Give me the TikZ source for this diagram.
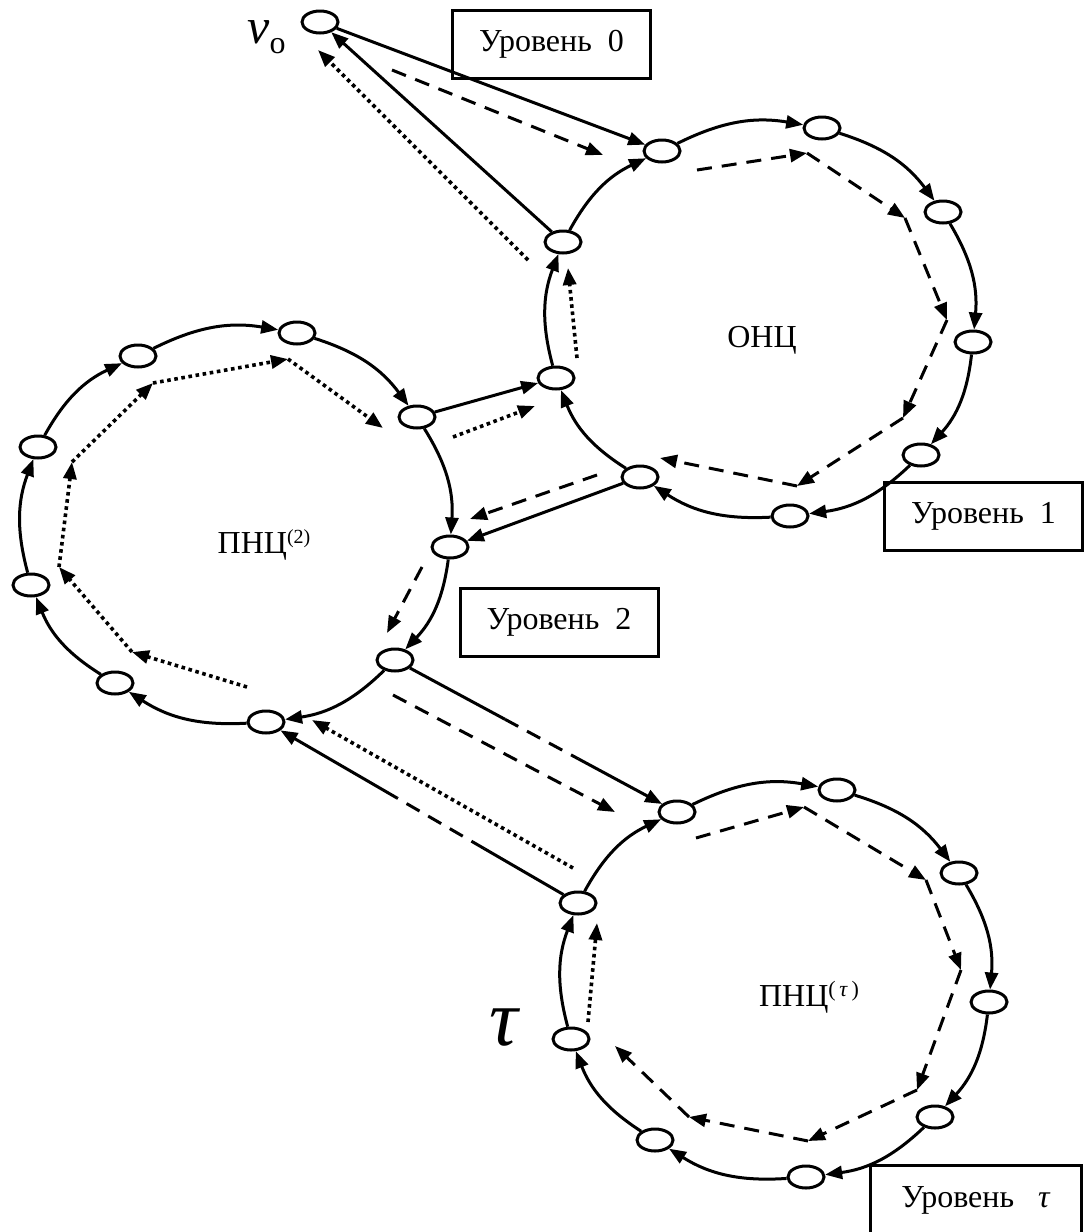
\documentclass[tikz,border=0pt]{standalone}
\usepackage{fontspec}
\setmainfont{Liberation Serif}
\usetikzlibrary{calc}
\usetikzlibrary{arrows.meta}
\usetikzlibrary{shapes.geometric}

\tikzset{
  vert/.style={draw,ellipse,line width=3pt,minimum width=36pt,minimum height=22pt,inner sep=0pt},
  levbox/.style={draw,line width=3pt,minimum width=198pt,minimum height=68pt,inner sep=0pt},
  ring/.style={->,line width=3pt},
  dsh/.style={->,line width=3pt,dash pattern=on 15pt off 10pt},
  dts/.style={->,line width=3.6pt,dash pattern=on 3.6pt off 3.6pt},
}

\begin{document}
\begin{tikzpicture}[line join=miter,>={Triangle[length=17pt,width=13pt]},x=1pt,y=-1pt,line width=3pt,font=\fontsize{32}{36}\selectfont]
\useasboundingbox (0,0) rectangle (1084,1232);
\clip (0,0) rectangle (1084,1232);

% vertices
\node[vert] (v0) at (320,22) {};
\foreach \n/\x/\y in {o1/662/151,o2/822/128,o3/943/212,o4/973/342,o5/921/455,o6/790/516,o7/640/477,o8/556/378,o9/563/242}
  \node[vert] (\n) at (\x,\y) {};
\foreach \n/\x/\y in {p1/138/356,p2/297/333,p3/417/417,p4/450/547,p5/395/660,p6/266/722,p7/115/683,p8/31/585,p9/38/447}
  \node[vert] (\n) at (\x,\y) {};
\foreach \n/\x/\y in {t1/677/812,t2/837/790,t3/959/873,t4/989/1002,t5/935/1117,t6/806/1177,t7/655/1140,t8/571/1039,t9/578/903}
  \node[vert] (\n) at (\x,\y) {};

% level boxes and labels
\node[levbox] (lev0) at (551.5,44.5) {Уровень~~0};
\node[levbox] (lev1) at (983.5,516) {Уровень~~1};
\node[levbox] (lev2) at (559,622.5) {Уровень~~2};
\node[levbox,minimum width=211pt,minimum height=70pt] (levt) at (976,1200) {Уровень~~~\textit{τ}};
\node (onc) at (762,340) {ОНЦ};
\node (pnc2) at (264,545) {ПНЦ\raisebox{10pt}{\fontsize{20}{20}\selectfont(2)}};
\node (pnct) at (809,997) {ПНЦ\raisebox{10pt}{\fontsize{22}{22}\selectfont(\,\textit{τ}\,)}};
\node[anchor=base west,inner sep=0pt] (vlab) at (246,43) {{\fontsize{50}{50}\selectfont\textit{v}}\raisebox{-10pt}{o}};
\node[anchor=base,inner sep=0pt] (taulab) at (505,1045) {\fontsize{80}{80}\selectfont\textit{τ}};

% rings
\foreach \a/\b in {o1/o2,o2/o3,o3/o4,o4/o5,o5/o6,o6/o7,o7/o8,o8/o9,o9/o1,
                   p1/p2,p2/p3,p3/p4,p4/p5,p5/p6,p6/p7,p7/p8,p8/p9,p9/p1,
                   t1/t2,t2/t3,t3/t4,t4/t5,t5/t6,t6/t7,t7/t8,t8/t9,t9/t1}
  \draw[ring] (\a) to[bend left=18] (\b);

% links between levels
\draw[ring] (o9) -- (v0);
\draw[ring] (v0) -- (o1);
\draw[ring] (p3) -- (o8);
\draw[ring] (o7) -- (p4);
\coordinate (m1) at ($(p5)!0.39!(t1)$);
\coordinate (m2) at ($(p5)!0.65!(t1)$);
\draw (p5) -- (m1);
\draw[dash pattern=on 15pt off 10pt] (m1) -- (m2);
\draw[ring] (m2) -- (t1);
\coordinate (m3) at ($(t9)!0.30!(p6)$);
\coordinate (m4) at ($(t9)!0.58!(p6)$);
\draw (t9) -- (m3);
\draw[dash pattern=on 15pt off 10pt] (m3) -- (m4);
\draw[ring] (m4) -- (p6);

% dashed walk
\coordinate (a1) at (392,70); \coordinate (a2) at (603,155);
\draw[dsh] (a1) -- (a2);
\foreach \i/\x/\y in {0/697/170,1/807/153,2/905/218,3/947/320,4/903/418,5/797/486,6/660/458}
  \coordinate (od\i) at (\x,\y);
\foreach \i [count=\j from 1] in {0,...,5}
  \draw[dsh] (od\i) -- (od\j);
\coordinate (a3) at (597,475); \coordinate (a4) at (470,519);
\draw[dsh] (a3) -- (a4);
\coordinate (a5) at (422,567); \coordinate (a6) at (387,633);
\draw[dsh] (a5) -- (a6);
\coordinate (a7) at (393,695); \coordinate (a8) at (615,812);
\draw[dsh] (a7) -- (a8);
\foreach \i/\x/\y in {0/696/838,1/804/807,2/926/880,3/961/970,4/917/1090,5/808/1141,6/689/1117,7/615/1046}
  \coordinate (td\i) at (\x,\y);
\foreach \i [count=\j from 1] in {0,...,6}
  \draw[dsh] (td\i) -- (td\j);

% dotted walk
\coordinate (b1) at (528,260); \coordinate (b2) at (318,50);
\draw[dts] (b1) -- (b2);
\coordinate (b3) at (577,358); \coordinate (b4) at (568,268);
\draw[dts] (b3) -- (b4);
\coordinate (b5) at (453,437); \coordinate (b6) at (535,406);
\draw[dts] (b5) -- (b6);
\foreach \i/\x/\y in {0/247/687,1/132/652,2/59/567,3/72/462,4/153/383,5/288/359,6/383/428}
  \coordinate (pd\i) at (\x,\y);
\foreach \i [count=\j from 1] in {0,...,5}
  \draw[dts] (pd\i) -- (pd\j);
\coordinate (b7) at (573,868); \coordinate (b8) at (312,720);
\draw[dts] (b7) -- (b8);
\coordinate (b9) at (588,1022); \coordinate (b10) at (597,923);
\draw[dts] (b9) -- (b10);
\end{tikzpicture}
\end{document}
